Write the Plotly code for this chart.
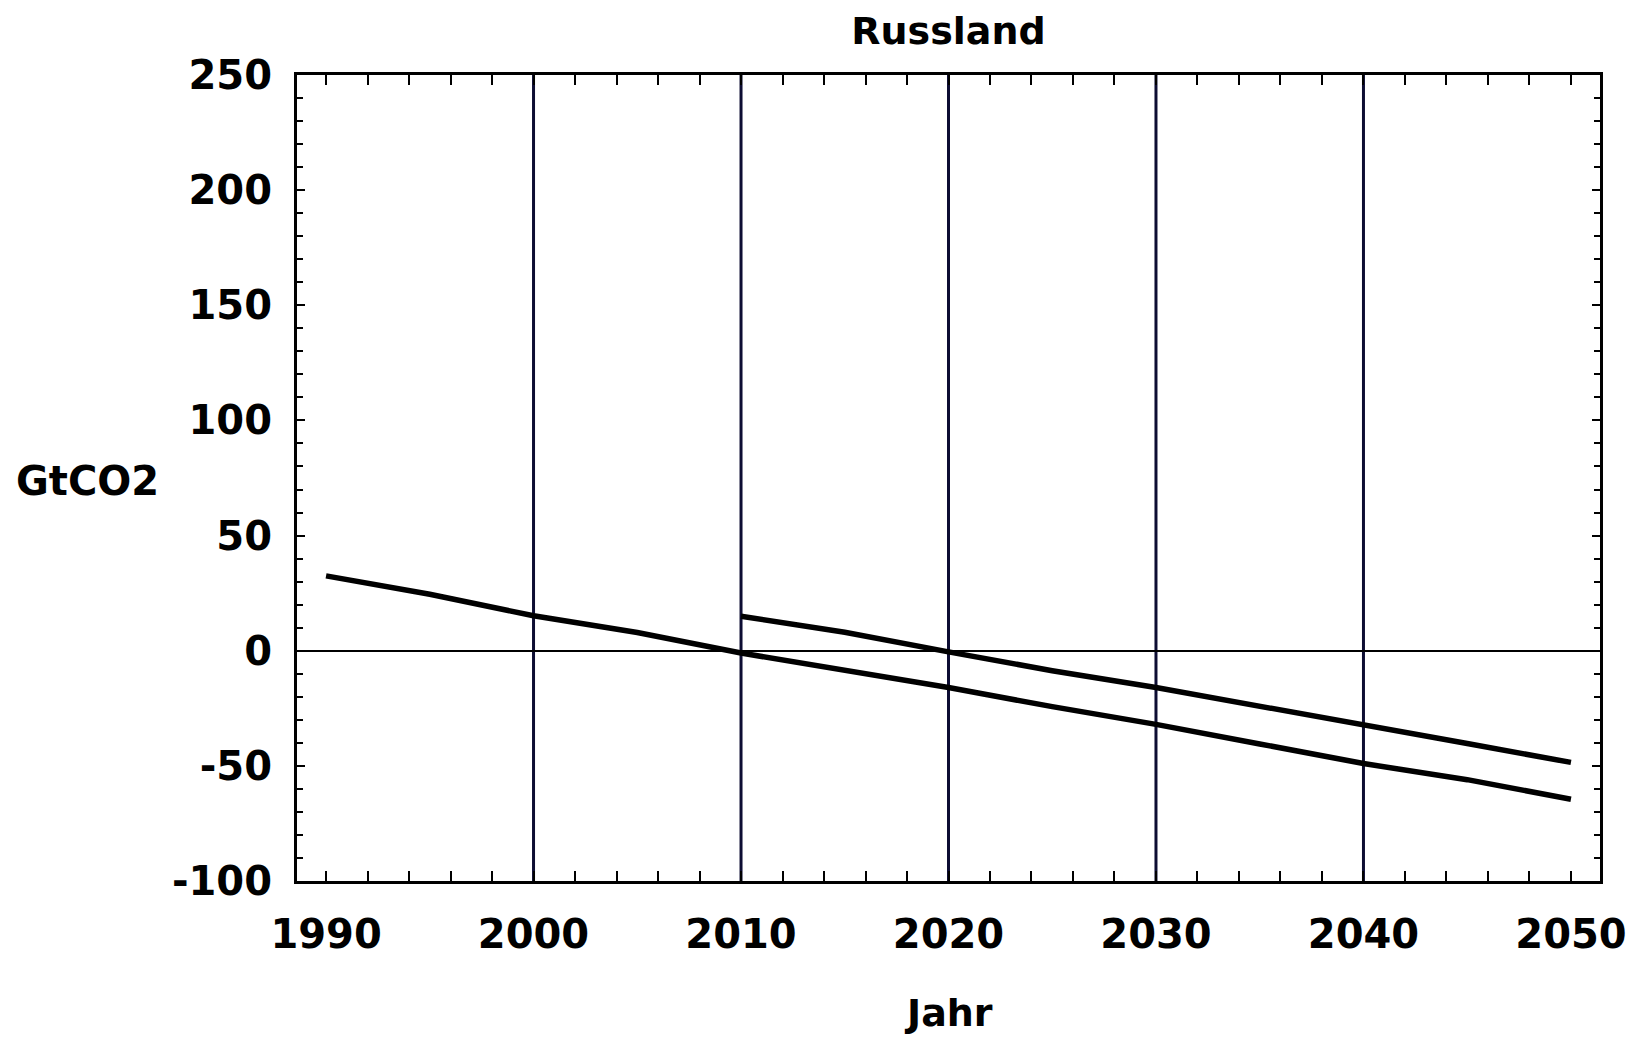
import plotly.graph_objects as go

# Data
years_a = [1990, 1995, 2000, 2005, 2010, 2015, 2020, 2025, 2030, 2035, 2040, 2045, 2050]
values_a = [32.5, 24.5, 15.2, 7.9, -1.0, -8.3, -16.0, -24.3, -32.0, -40.5, -49.0, -56.0, -64.5]

years_b = [2010, 2015, 2020, 2025, 2030, 2035, 2040, 2045, 2050]
values_b = [15.0, 8.0, -0.5, -8.7, -16.0, -24.3, -32.0, -40.3, -48.5]

x_tick_vals = [1990, 2000, 2010, 2020, 2030, 2040, 2050]
x_tick_text = ["1990", "2000", "2010", "2020", "2030", "2040", "2050"]
y_tick_vals = [-100, -50, 0, 50, 100, 150, 200, 250]
y_tick_text = ["-100", "-50", "0", "50", "100", "150", "200", "250"]
grid_years = [2000, 2010, 2020, 2030, 2040]

FONT = dict(family="DejaVu Sans", size=40, color="black", weight="bold")
FONT_T = dict(family="DejaVu Sans", size=38, color="black", weight="bold")
GRID_COLOR = "#0d0d33"

fig = go.Figure()
fig.add_trace(go.Scatter(x=years_a, y=values_a, mode="lines",
                         line=dict(color="black", width=5.5), showlegend=False))
fig.add_trace(go.Scatter(x=years_b, y=values_b, mode="lines",
                         line=dict(color="black", width=5.5), showlegend=False))

for gy in grid_years:
    fig.add_shape(type="line", xref="x", yref="paper", x0=gy, x1=gy, y0=0, y1=1,
                  line=dict(color=GRID_COLOR, width=3), layer="below")

W, H = 1631, 1030
fig.update_layout(
    width=W, height=H,
    paper_bgcolor="white", plot_bgcolor="white",
    margin=dict(l=289, r=39, t=67, b=157),
    title=dict(text="Russland", x=0.5, xanchor="center", xref="paper",
               y=1 - 23 / H, yanchor="middle", yref="container", font=FONT_T),
    xaxis=dict(
        range=[1988.6, 2051.4], tickmode="array", tickvals=x_tick_vals, ticktext=x_tick_text,
        showgrid=False, zeroline=False, showline=True, linecolor="black", linewidth=3,
        mirror="allticks", ticks="", tickfont=FONT, ticklabelstandoff=16,
        minor=dict(dtick=2, tick0=1990, ticks="inside", ticklen=10, tickwidth=2,
                   tickcolor="black", showgrid=False),
    ),
    yaxis=dict(
        range=[-100, 250], tickmode="array", tickvals=y_tick_vals, ticktext=y_tick_text,
        showgrid=False, zeroline=True, zerolinecolor="black", zerolinewidth=2,
        showline=True, linecolor="black", linewidth=3, mirror="allticks",
        ticks="inside", ticklen=8, tickwidth=2, tickcolor="black",
        tickfont=FONT, ticklabelstandoff=14,
        minor=dict(dtick=10, tick0=0, ticks="inside", ticklen=6, tickwidth=2,
                   tickcolor="black", showgrid=False),
    ),
    annotations=[
        dict(text="GtCO2", xref="paper", yref="paper", x=(87 - 297) / 1303, y=0.496,
             xanchor="center", yanchor="middle", showarrow=False, font=FONT),
        dict(text="Jahr", xref="paper", yref="paper", x=0.5, y=(881 - 1013) / 806,
             xanchor="center", yanchor="middle", showarrow=False, font=FONT_T),
    ],
)

fig.write_html("out.html")
